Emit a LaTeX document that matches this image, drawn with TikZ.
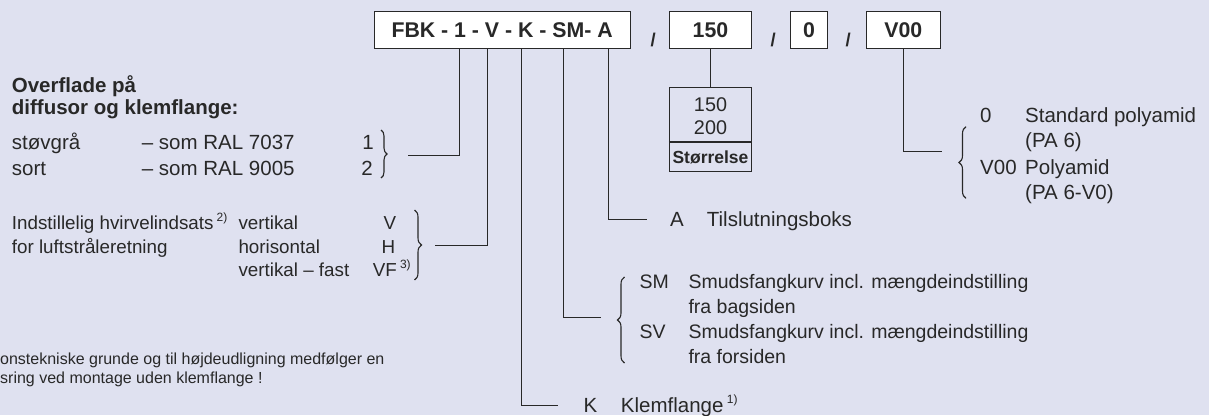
\documentclass[tikz,border=0pt]{standalone}
\usepackage{fontspec}
\setmainfont{Liberation Sans}
\usetikzlibrary{decorations.pathreplacing}
\definecolor{bg}{RGB}{223,225,240}
\definecolor{ink}{RGB}{40,40,40}
\newcommand{\supx}[1]{\raisebox{0.45em}{\fontsize{12}{12}\selectfont #1}}
\begin{document}
\begin{tikzpicture}[x=1pt,y=-1pt,
  box/.style={draw=ink, fill=white, line width=1pt, inner sep=0pt, text=ink,
    font=\bfseries\fontsize{21.3}{24}\selectfont},
  lab/.style={anchor=base west, inner sep=0pt, text=ink, font=\fontsize{20.5}{24}\selectfont},
  labc/.style={lab, anchor=base},
  labs/.style={lab, font=\fontsize{18.8}{22}\selectfont},
  labsc/.style={labs, anchor=base},
  labm/.style={lab, font=\fontsize{19.5}{22}\selectfont},
  foot/.style={lab, font=\fontsize{16}{18}\selectfont},
  head/.style={lab, font=\bfseries\fontsize{20.5}{24}\selectfont},
  slash/.style={anchor=base, inner sep=0pt, text=ink, font=\bfseries\fontsize{18.5}{18}\selectfont},
  conn/.style={draw=ink, line width=1pt},
  brc/.style={draw=ink, line width=1.1pt, decorate, decoration={brace, amplitude=#1}},
  brc/.default=6pt]
\fill[bg] (0,0) rectangle (1209,415);
\useasboundingbox (0,0) rectangle (1209,415);

% code boxes
\node[box, minimum width=255.7pt, minimum height=36.6pt] (main) at (502.15,30) {FBK - 1 - V - K - SM- A};
\node[box, minimum width=82.4pt, minimum height=36.6pt] (b150) at (710.5,30) {150};
\node[box, minimum width=36.6pt, minimum height=36.6pt] (b0) at (809,30) {0};
\node[box, minimum width=74.7pt, minimum height=36.6pt] (bv) at (903.35,30) {V00};
\node[slash] (s1) at (653.3,46) {/};
\node[slash] (s2) at (773.3,46) {/};
\node[slash] (s3) at (848.3,46) {/};

% size box
\node[draw=ink, line width=1pt, minimum width=82.4pt, minimum height=84pt, inner sep=0pt] (size) at (710.5,129.7) {};
\node[labc, font=\fontsize{19.8}{22}\selectfont] (n150) at (710.5,111.4) {150};
\node[labc, font=\fontsize{19.8}{22}\selectfont] (n200) at (710.5,134.8) {200};
\node[labc, font=\bfseries\fontsize{17.5}{20}\selectfont] (nsz) at (710.5,163) {Størrelse};
\coordinate (divy) at (0,141.7);
\draw[line width=2.4pt, ink] (size.west |- divy) -- (size.east |- divy);
\draw[conn] (b150.south) -- (size.north);

% end points of connectors
\coordinate (e1) at (408,155);
\coordinate (e2) at (435,245.5);
\coordinate (e3) at (558.3,405.5);
\coordinate (e4) at (601,317);
\coordinate (e5) at (646.5,219);
\coordinate (e7) at (941.5,151);
\draw[conn] (main.south -| 459.3,0) |- (e1);
\draw[conn] (main.south -| 487.7,0) |- (e2);
\draw[conn] (main.south -| 521.7,0) |- (e3);
\draw[conn] (main.south -| 563.3,0) |- (e4);
\draw[conn] (main.south -| 608.3,0) |- (e5);
\draw[conn] (bv.south) |- (e7);

% left: surface
\node[head] (h1) at (11.7,92.3) {Overflade på};
\node[head] (h2) at (11.7,114.3) {diffusor og klemflange:};
\node[lab] (t1) at (11.7,149.3) {støvgrå};
\node[lab] (t1b) at (141.7,149.3) {– som RAL 7037};
\node[labc] (t1c) at (368,149.3) {1};
\node[lab] (t2) at (11.7,175.3) {sort};
\node[lab] (t2b) at (141.7,175.3) {– som RAL 9005};
\node[labc] (t2c) at (367,175.3) {2};
\draw[brc] (381,130) -- (381,178);

% left: swirl insert
\node[labs] (i1) at (11.7,229.7) {Indstillelig hvirvelindsats\,\supx{2)}};
\node[labs] (i1b) at (238.3,229.7) {vertikal};
\node[labsc] (i1c) at (390,229.7) {V};
\node[labs] (i2) at (11.7,253.2) {for luftstråleretning};
\node[labs] (i2b) at (238.3,253.2) {horisontal};
\node[labsc] (i2c) at (388.3,253.2) {H};
\node[labs] (i3b) at (238.3,276.7) {vertikal – fast};
\node[labs] (i3c) at (372.7,276.7) {VF\,\supx{3)}};
\draw[brc=7pt] (414.5,210) -- (414.5,280);

% footnote
\node[foot] (f1) at (0,364) {onstekniske grunde og til højdeudligning medfølger en};
\node[foot] (f2) at (0,383) {sring ved montage uden klemflange !};

% right: A
\node[lab] (a1) at (670,226.3) {A};
\node[lab] (a2) at (706.7,226.3) {Tilslutningsboks};

% right: SM / SV
\draw[brc=7pt] (624.5,363) -- (624.5,277);
\node[labm] (sm1) at (639.3,288.7) {SM};
\node[labm] (sm2) at (688.3,288.7) {Smudsfangkurv incl. mængdeindstilling};
\node[labm] (sm3) at (688.3,313.7) {fra bagsiden};
\node[labm] (sv1) at (639.3,338.7) {SV};
\node[labm] (sv2) at (688.3,338.7) {Smudsfangkurv incl. mængdeindstilling};
\node[labm] (sv3) at (688.3,363.7) {fra forsiden};

% right: K
\node[lab] (k1) at (583.3,412.5) {K};
\node[lab] (k2) at (620.7,412.5) {Klemflange\,\supx{1)}};

% right: material
\draw[brc=7pt] (966,198.3) -- (966,126.7);
\node[lab] (m1) at (980,122.3) {0};
\node[lab] (m2) at (1025,122.3) {Standard polyamid};
\node[lab] (m3) at (1025,147.3) {(PA 6)};
\node[lab] (m4) at (980,174.6) {V00};
\node[lab] (m5) at (1025,174.6) {Polyamid};
\node[lab] (m6) at (1025,199) {(PA 6-V0)};
\end{tikzpicture}
\end{document}
